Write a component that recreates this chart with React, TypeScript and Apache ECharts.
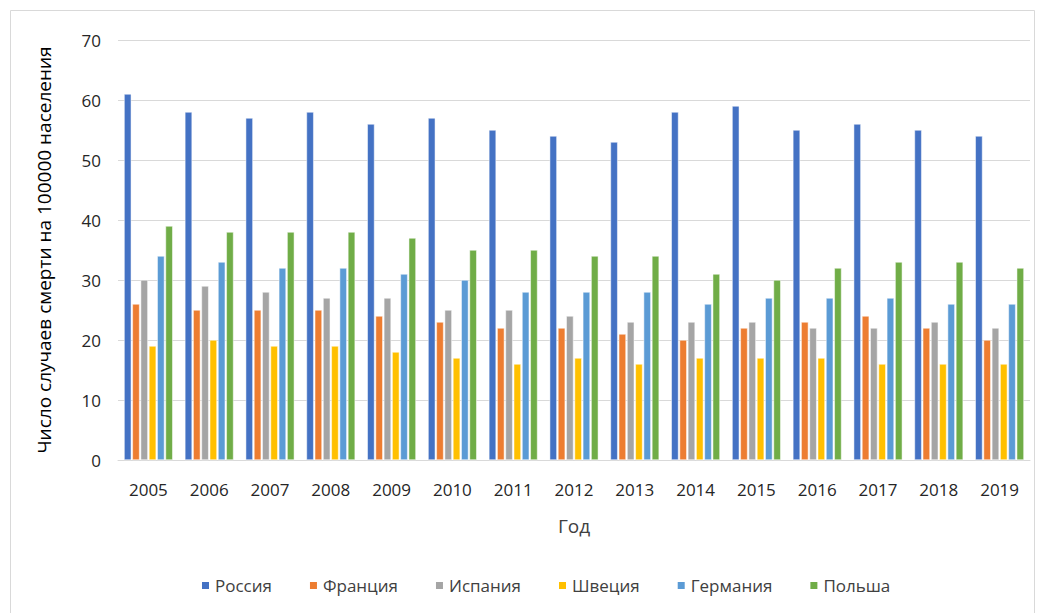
import React, { useEffect, useRef } from "react";
import * as echarts from "echarts";

const years = ["2005","2006","2007","2008","2009","2010","2011","2012","2013","2014","2015","2016","2017","2018","2019"];
const russia = [61,58,57,58,56,57,55,54,53,58,59,55,56,55,54];
const france = [26,25,25,25,24,23,22,22,21,20,22,23,24,22,20];
const spain = [30,29,28,27,27,25,25,24,23,23,23,22,22,23,22];
const sweden = [19,20,19,19,18,17,16,17,16,17,17,17,16,16,16];
const germany = [34,33,32,32,31,30,28,28,28,26,27,27,27,26,26];
const poland = [39,38,38,38,37,35,35,34,34,31,30,32,33,33,32];

const seriesNames = ["Россия","Франция","Испания","Швеция","Германия","Польша"];
const seriesData = [russia, france, spain, sweden, germany, poland];
const colors = ["#4472C4","#ED7D31","#A5A5A5","#FFC000","#5B9BD5","#70AD47"];
const font = "'Open Sans', 'Noto Sans', sans-serif";

export default function App() {
  const ref = useRef<HTMLDivElement>(null);
  useEffect(() => {
    const chart = echarts.init(ref.current!, null, { renderer: "svg" });
    chart.setOption({
      animation: false,
      color: colors,
      textStyle: { fontFamily: font },
      graphic: [
        {
          type: "rect",
          shape: { x: 10.5, y: 10.5, width: 1024, height: 640 },
          style: { fill: "none", stroke: "#d9d9d9", lineWidth: 1 },
          silent: true,
        },
      ],
      grid: { left: 118, right: 9, top: 40, bottom: 153 },
      legend: {
        bottom: 14,
        left: 195,
        itemWidth: 9,
        itemHeight: 9,
        itemGap: 36,
        icon: "rect",
        textStyle: { fontSize: 17, color: "#404040", fontFamily: font },
        data: seriesNames,
      },
      xAxis: {
        type: "category",
        data: years,
        name: "Год",
        nameLocation: "middle",
        nameGap: 56,
        nameTextStyle: { fontSize: 19, color: "#404040" },
        axisLine: { lineStyle: { color: "#d9d9d9" } },
        axisTick: { show: false },
        axisLabel: { fontSize: 17, color: "#262626", margin: 21 },
      },
      yAxis: {
        type: "value",
        min: 0,
        max: 70,
        interval: 10,
        name: "Число случаев смерти на 100000 населения",
        nameLocation: "middle",
        nameGap: 65,
        nameTextStyle: { fontSize: 19, color: "#000" },
        axisLine: { show: false },
        axisTick: { show: false },
        axisLabel: { fontSize: 17, color: "#262626", margin: 17 },
        splitLine: { lineStyle: { color: "#d9d9d9" } },
      },
      series: seriesNames.map((n, i) => ({
        name: n,
        type: "bar",
        data: seriesData[i],
        barGap: "15%",
        barCategoryGap: "20%",
        itemStyle: { borderColor: "#fff", borderWidth: 0.5 },
      })),
    });
    return () => chart.dispose();
  }, []);
  return (
    <div
      ref={ref}
      style={{ position: "fixed", left: 0, top: 0, width: 1039, height: 613, background: "#fff" }}
    />
  );
}
